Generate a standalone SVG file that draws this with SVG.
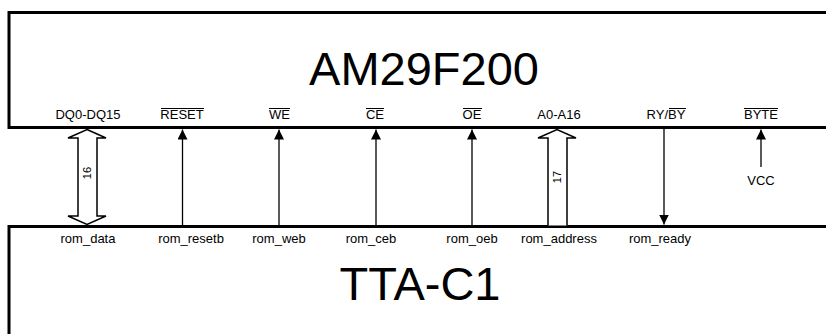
<svg xmlns="http://www.w3.org/2000/svg" width="826" height="334" viewBox="0 0 826 334">
<style>
.box{fill:#fff;stroke:#000;stroke-width:3}
.t{font-family:"Liberation Sans",Arial,sans-serif;fill:#000}
.pin{font-size:13px;text-anchor:middle}
.big{font-size:47px;text-anchor:middle}
.w{font-size:11px;text-anchor:middle}
.ln{stroke:#000;stroke-width:1.3;fill:none}
.ol{stroke:#000;stroke-width:1}
.bus{fill:#fff;stroke:#000;stroke-width:1.5;stroke-linejoin:miter}
</style>
<defs>
<marker id="ah" viewBox="0 0 10 10" refX="10" refY="5" markerWidth="10" markerHeight="10" markerUnits="userSpaceOnUse" orient="auto">
<path d="M0,0 L10,5 L0,10 Z" fill="#000"/>
</marker>
</defs>
<rect width="826" height="334" fill="#fff"/>
<g id="am29f200">
<rect class="box" x="9" y="12.5" width="830" height="115"/>
<text class="t big" x="424" y="85">AM29F200</text>
<text class="t pin" x="88" y="119">DQ0-DQ15</text>
<text class="t pin" x="182" y="119">RESET</text>
<line class="ol" x1="161" y1="108.5" x2="204" y2="108.5"/>
<text class="t pin" x="279.5" y="119">WE</text>
<line class="ol" x1="269" y1="108.5" x2="290" y2="108.5"/>
<text class="t pin" x="375" y="119">CE</text>
<line class="ol" x1="366" y1="108.5" x2="384" y2="108.5"/>
<text class="t pin" x="472" y="119">OE</text>
<line class="ol" x1="463" y1="108.5" x2="482" y2="108.5"/>
<text class="t pin" x="559" y="119">A0-A16</text>
<text class="t pin" x="666" y="119">RY/BY</text>
<line class="ol" x1="669" y1="108.5" x2="686" y2="108.5"/>
<text class="t pin" x="761" y="119">BYTE</text>
<line class="ol" x1="744" y1="108.5" x2="778" y2="108.5"/>
</g>
<g id="tta-c1">
<rect class="box" x="9" y="226.5" width="830" height="120"/>
<text class="t big" x="420" y="300">TTA-C1</text>
<text class="t pin" x="88" y="243">rom_data</text>
<text class="t pin" x="191" y="243">rom_resetb</text>
<text class="t pin" x="279" y="243">rom_web</text>
<text class="t pin" x="371" y="243">rom_ceb</text>
<text class="t pin" x="472" y="243">rom_oeb</text>
<text class="t pin" x="559" y="243">rom_address</text>
<text class="t pin" x="660" y="243">rom_ready</text>
</g>
<g id="vcc">
<text class="t pin" x="761" y="185">VCC</text>
</g>
<g id="connectors">
<polygon class="bus" points="87,129.5 106,138 97,138 97,216 106,216 87,224.5 68,216 78,216 78,138 68,138"/>
<text class="t w" transform="translate(91,173) rotate(-90)">16</text>
<line class="ln" x1="182.5" y1="225" x2="182.5" y2="129.5" marker-end="url(#ah)"/>
<line class="ln" x1="279" y1="225" x2="279" y2="129.5" marker-end="url(#ah)"/>
<line class="ln" x1="376" y1="225" x2="376" y2="129.5" marker-end="url(#ah)"/>
<line class="ln" x1="472" y1="225" x2="472" y2="129.5" marker-end="url(#ah)"/>
<polyline class="bus" points="548,225.5 548,138 538,138 557,129.5 576,138 567,138 567,225.5"/>
<text class="t w" transform="translate(561,177) rotate(-90)">17</text>
<line class="ln" x1="664" y1="129" x2="664" y2="224.5" marker-end="url(#ah)"/>
<line class="ln" x1="761" y1="167" x2="761" y2="129.5" marker-end="url(#ah)"/>
</g>
</svg>
